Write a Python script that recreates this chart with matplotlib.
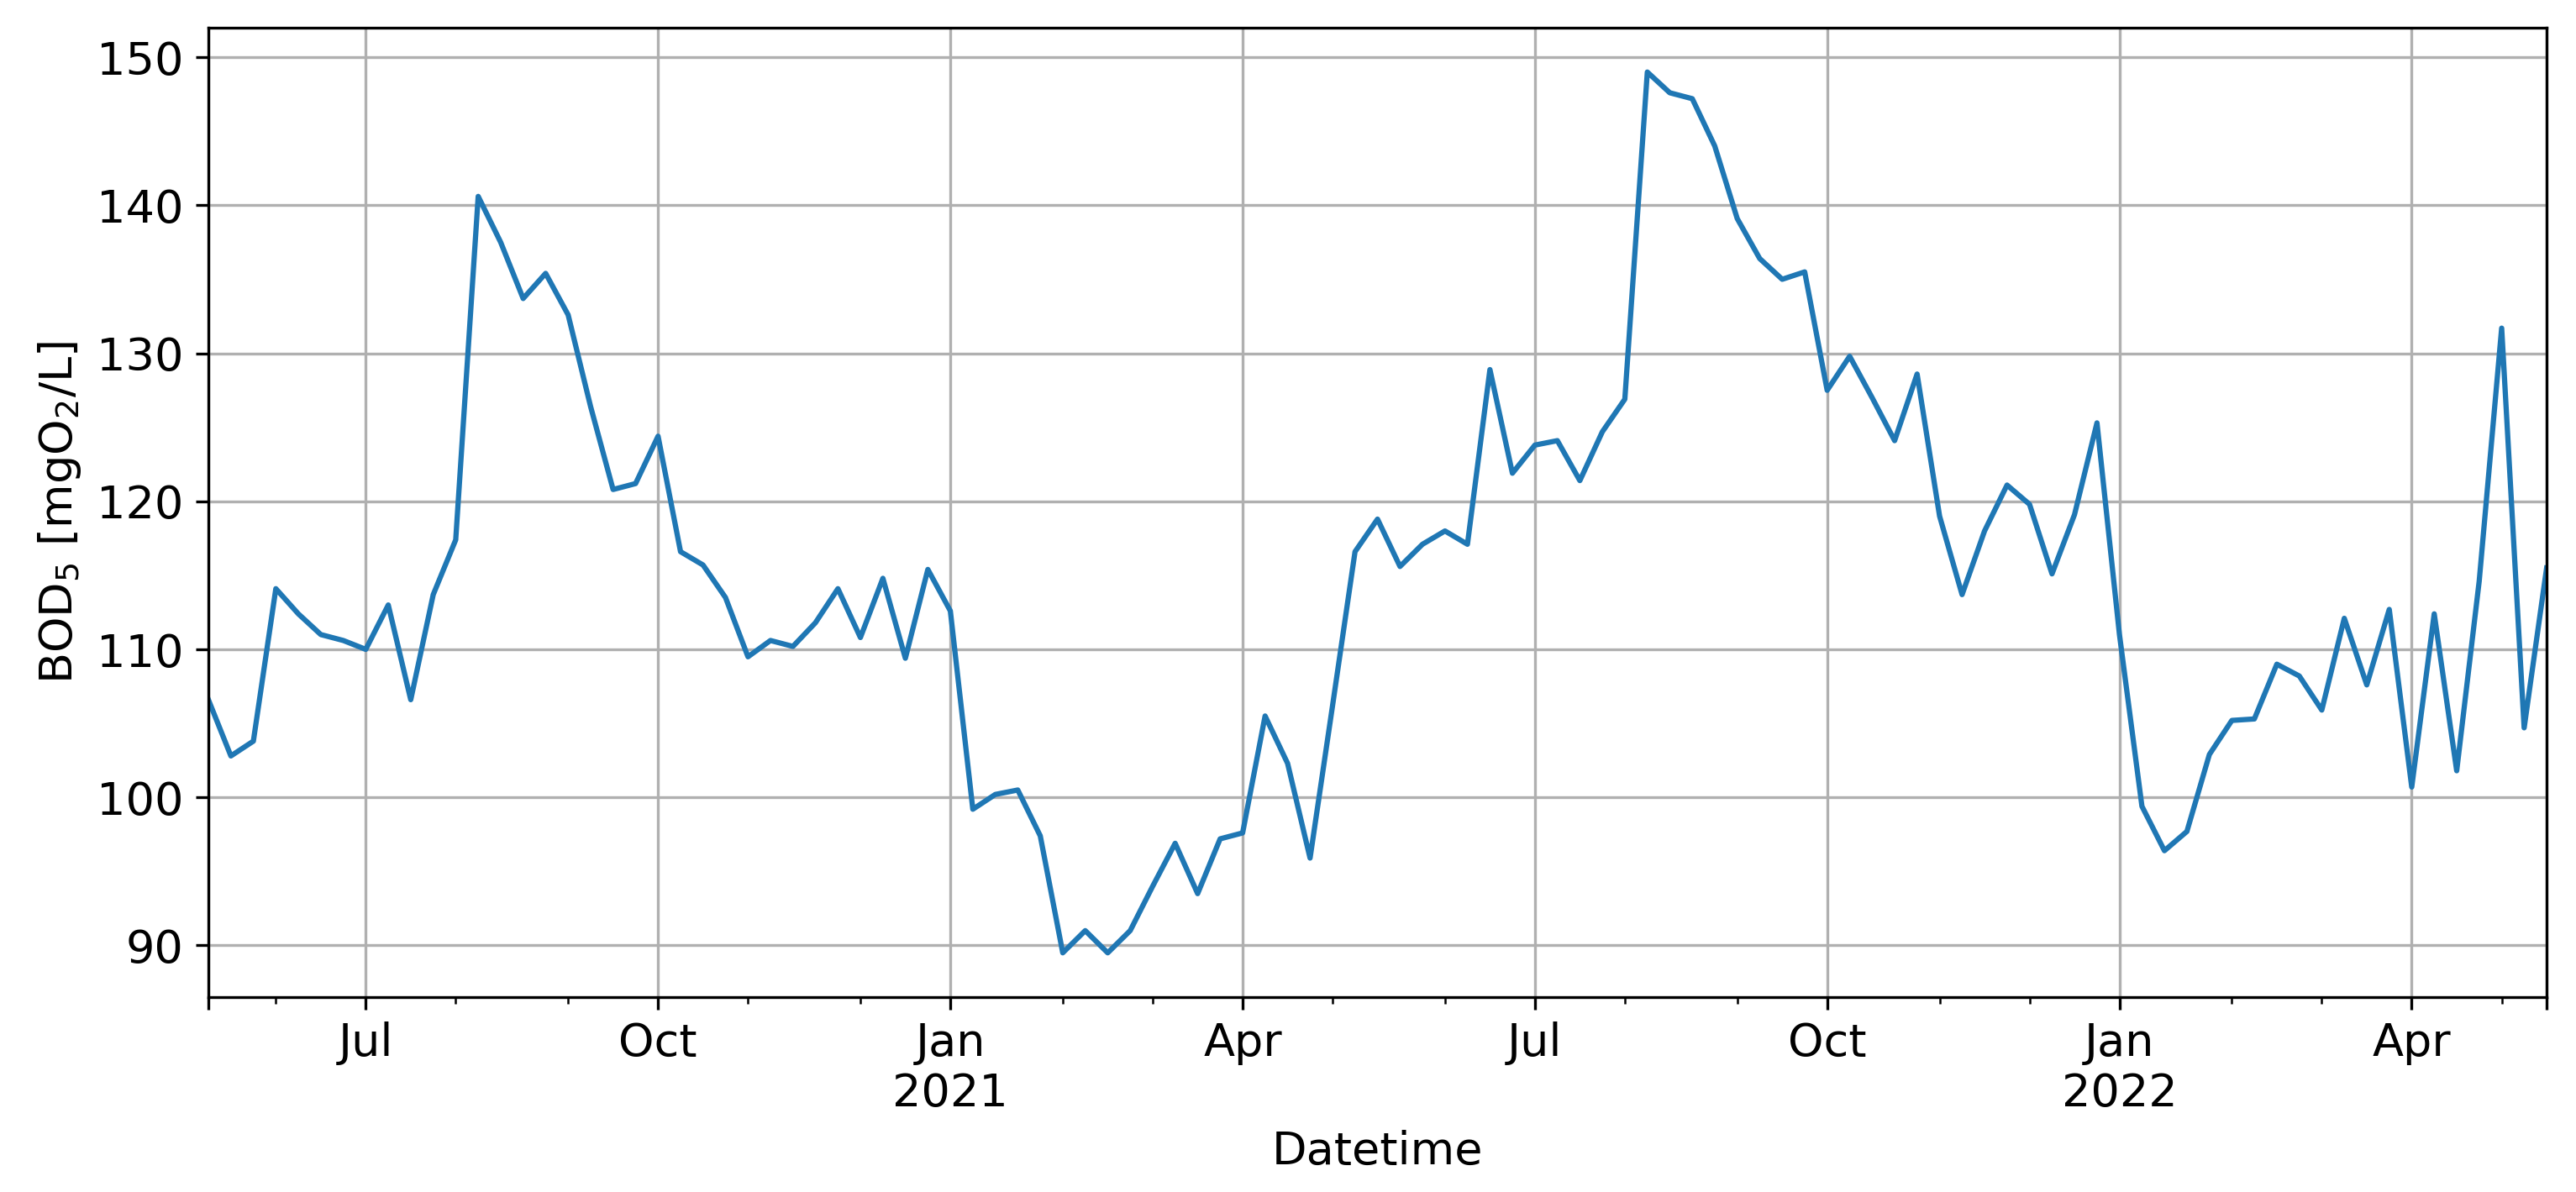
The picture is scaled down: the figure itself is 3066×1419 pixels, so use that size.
import matplotlib
matplotlib.use('Agg')
import matplotlib.pyplot as plt
import pandas as pd

plt.rcParams['font.size'] = 13

# weekly BOD5 readings, May 2020 - May 2022
start = '2020-05-17'
bod5 = [106.6, 102.8, 103.8, 114.1, 112.4, 111.0, 110.6, 110.0, 113.0, 106.6,
        113.7, 117.4, 140.6, 137.5, 133.7, 135.4, 132.6, 126.4, 120.8, 121.2,
        124.4, 116.6, 115.7, 113.5, 109.5, 110.6, 110.2, 111.8, 114.1, 110.8,
        114.8, 109.4, 115.4, 112.6, 99.2, 100.2, 100.5, 97.4, 89.5, 91.0,
        89.5, 91.0, 94.0, 96.9, 93.5, 97.2, 97.6, 105.5, 102.3, 95.9,
        106.2, 116.6, 118.8, 115.6, 117.1, 118.0, 117.1, 128.9, 121.9, 123.8,
        124.1, 121.4, 124.7, 126.9, 149.0, 147.6, 147.2, 144.0, 139.1, 136.4,
        135.0, 135.5, 127.5, 129.8, 127.0, 124.1, 128.6, 119.0, 113.7, 118.0,
        121.1, 119.8, 115.1, 119.1, 125.3, 111.0, 99.4, 96.4, 97.7, 102.9,
        105.2, 105.3, 109.0, 108.2, 105.9, 112.1, 107.6, 112.7, 100.7, 112.4,
        101.8, 114.6, 131.7, 104.7, 115.5]

dates = pd.date_range(start, periods=len(bod5), freq='W-SUN', name='Datetime')
s = pd.Series(bod5, index=dates)

fig = plt.figure(figsize=(10.22, 4.73), dpi=300)
ax = fig.add_axes([0.0809, 0.1637, 0.9077, 0.8128])
s.plot(ax=ax, color='#1f77b4', linewidth=1.5)
ax.grid(True)
ax.set_ylabel('BOD$_5$ [mgO$_2$/L]')
ax.set_xlabel('Datetime')

plt.savefig('out.png', dpi=300)
